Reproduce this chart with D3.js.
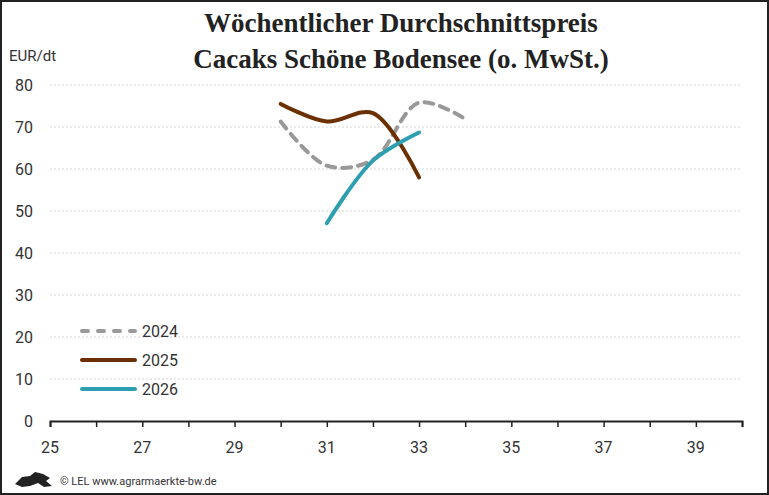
<!DOCTYPE html>
<html>
<head>
<meta charset="utf-8">
<script src="https://cdn.jsdelivr.net/npm/d3@7"></script>
<style>
  body { margin: 0; background: #fff; }
  svg { display: block; }
</style>
</head>
<body>
<svg id="chart" width="769" height="495"></svg>
<script>
const weeks2024 = [30, 31, 32, 33, 34]
const values2024 = [71.3, 60.8, 62.2, 75.8, 71.9]
const weeks2025 = [30, 31, 32, 33]
const values2025 = [75.5, 71.3, 73.3, 58.0]
const weeks2026 = [31, 32, 33]
const values2026 = [47.1, 62.0, 68.7]
const yTicks = [0, 10, 20, 30, 40, 50, 60, 70, 80]
const xLabels = [25, 27, 29, 31, 33, 35, 37, 39]

const svg = d3.select('#chart')
const W = 769, H = 495
const margin = {top: 85, right: 27, bottom: 74, left: 50}

svg.append('rect')
  .attr('x', 1).attr('y', 1).attr('width', W - 2).attr('height', H - 2)
  .attr('fill', '#fff').attr('stroke', '#222').attr('stroke-width', 2)

const x = d3.scaleLinear().domain([25, 40]).range([margin.left, W - margin.right])
const y = d3.scaleLinear().domain([0, 80]).range([H - margin.bottom, margin.top])

// title
svg.append('text')
  .attr('x', 401).attr('y', 32)
  .attr('text-anchor', 'middle')
  .style('font-family', '"Liberation Serif", serif')
  .style('font-weight', 'bold').style('font-size', '27px').style('fill', '#222')
  .text('Wöchentlicher Durchschnittspreis')
svg.append('text')
  .attr('x', 401).attr('y', 68)
  .attr('text-anchor', 'middle')
  .style('font-family', '"Liberation Serif", serif')
  .style('font-weight', 'bold').style('font-size', '27px').style('fill', '#222')
  .text('Cacaks Schöne Bodensee (o. MwSt.)')

svg.append('text')
  .attr('x', 9).attr('y', 61)
  .style('font-family', 'Roboto, sans-serif').style('font-size', '15px').style('fill', '#333')
  .text('EUR/dt')

// grid
svg.append('g').selectAll('line')
  .data(yTicks.filter(d => d > 0))
  .enter().append('line')
    .attr('x1', x(25)).attr('x2', x(40))
    .attr('y1', d => y(d)).attr('y2', d => y(d))
    .attr('stroke', '#d4d4d4').attr('stroke-width', 1).attr('stroke-dasharray', '2,2')

svg.append('g').selectAll('text')
  .data(yTicks)
  .enter().append('text')
    .attr('x', 33).attr('y', d => y(d) + 6)
    .attr('text-anchor', 'end')
    .style('font-family', 'Roboto, sans-serif').style('font-size', '16px').style('fill', '#333')
    .text(d => d)

// x axis
const xAxis = svg.append('g')
  .attr('transform', 'translate(0,' + y(0) + ')')
  .call(d3.axisBottom(x).tickValues(d3.range(25, 41)).tickSize(6).tickFormat(''))
xAxis.select('.domain').attr('stroke', '#222').attr('stroke-width', 2)
xAxis.selectAll('.tick line').attr('stroke', '#222').attr('stroke-width', 1.5)

svg.append('g').selectAll('text')
  .data(xLabels)
  .enter().append('text')
    .attr('x', d => x(d)).attr('y', 453)
    .attr('text-anchor', 'middle')
    .style('font-family', 'Roboto, sans-serif').style('font-size', '16px').style('fill', '#333')
    .text(d => d)

// series
const series = [
  {name: '2024', weeks: weeks2024, values: values2024, color: '#9a9898', dash: '9,7'},
  {name: '2025', weeks: weeks2025, values: values2025, color: '#6b3000', dash: null},
  {name: '2026', weeks: weeks2026, values: values2026, color: '#2e9fb0', dash: null}
]

const line = d3.line()
  .curve(d3.curveCatmullRom.alpha(0.5))
  .x(d => x(d[0]))
  .y(d => y(d[1]))

series.forEach(s => {
  svg.append('path')
    .datum(s.weeks.map((w, i) => [w, s.values[i]]))
    .attr('d', line)
    .attr('fill', 'none')
    .attr('stroke', s.color)
    .attr('stroke-width', 4)
    .attr('stroke-linecap', 'round')
    .attr('stroke-dasharray', s.dash)
})

// legend
const legend = svg.append('g')
series.forEach((s, i) => {
  const ly = 331 + i * 29
  legend.append('line')
    .attr('x1', 82).attr('x2', 135).attr('y1', ly).attr('y2', ly)
    .attr('stroke', s.color).attr('stroke-width', 4)
    .attr('stroke-linecap', 'round')
    .attr('stroke-dasharray', s.dash ? '6,10' : null)
  legend.append('text')
    .attr('x', 142).attr('y', ly + 6)
    .style('font-family', 'Roboto, sans-serif').style('font-size', '16px').style('fill', '#333')
    .text(s.name)
})

// footer
svg.append('path')
  .attr('d', 'M15,484 L22,477 L30,476 L35,472 L43,474 L50,478 L46,481 L52,486 L44,487 L38,483 L30,486 L22,487 Z')
  .attr('fill', '#222')
svg.append('text')
  .attr('x', 60).attr('y', 485)
  .style('font-family', 'Roboto, sans-serif').style('font-size', '11px').style('fill', '#333')
  .text('© LEL www.agrarmaerkte-bw.de')
</script>
</body>
</html>
